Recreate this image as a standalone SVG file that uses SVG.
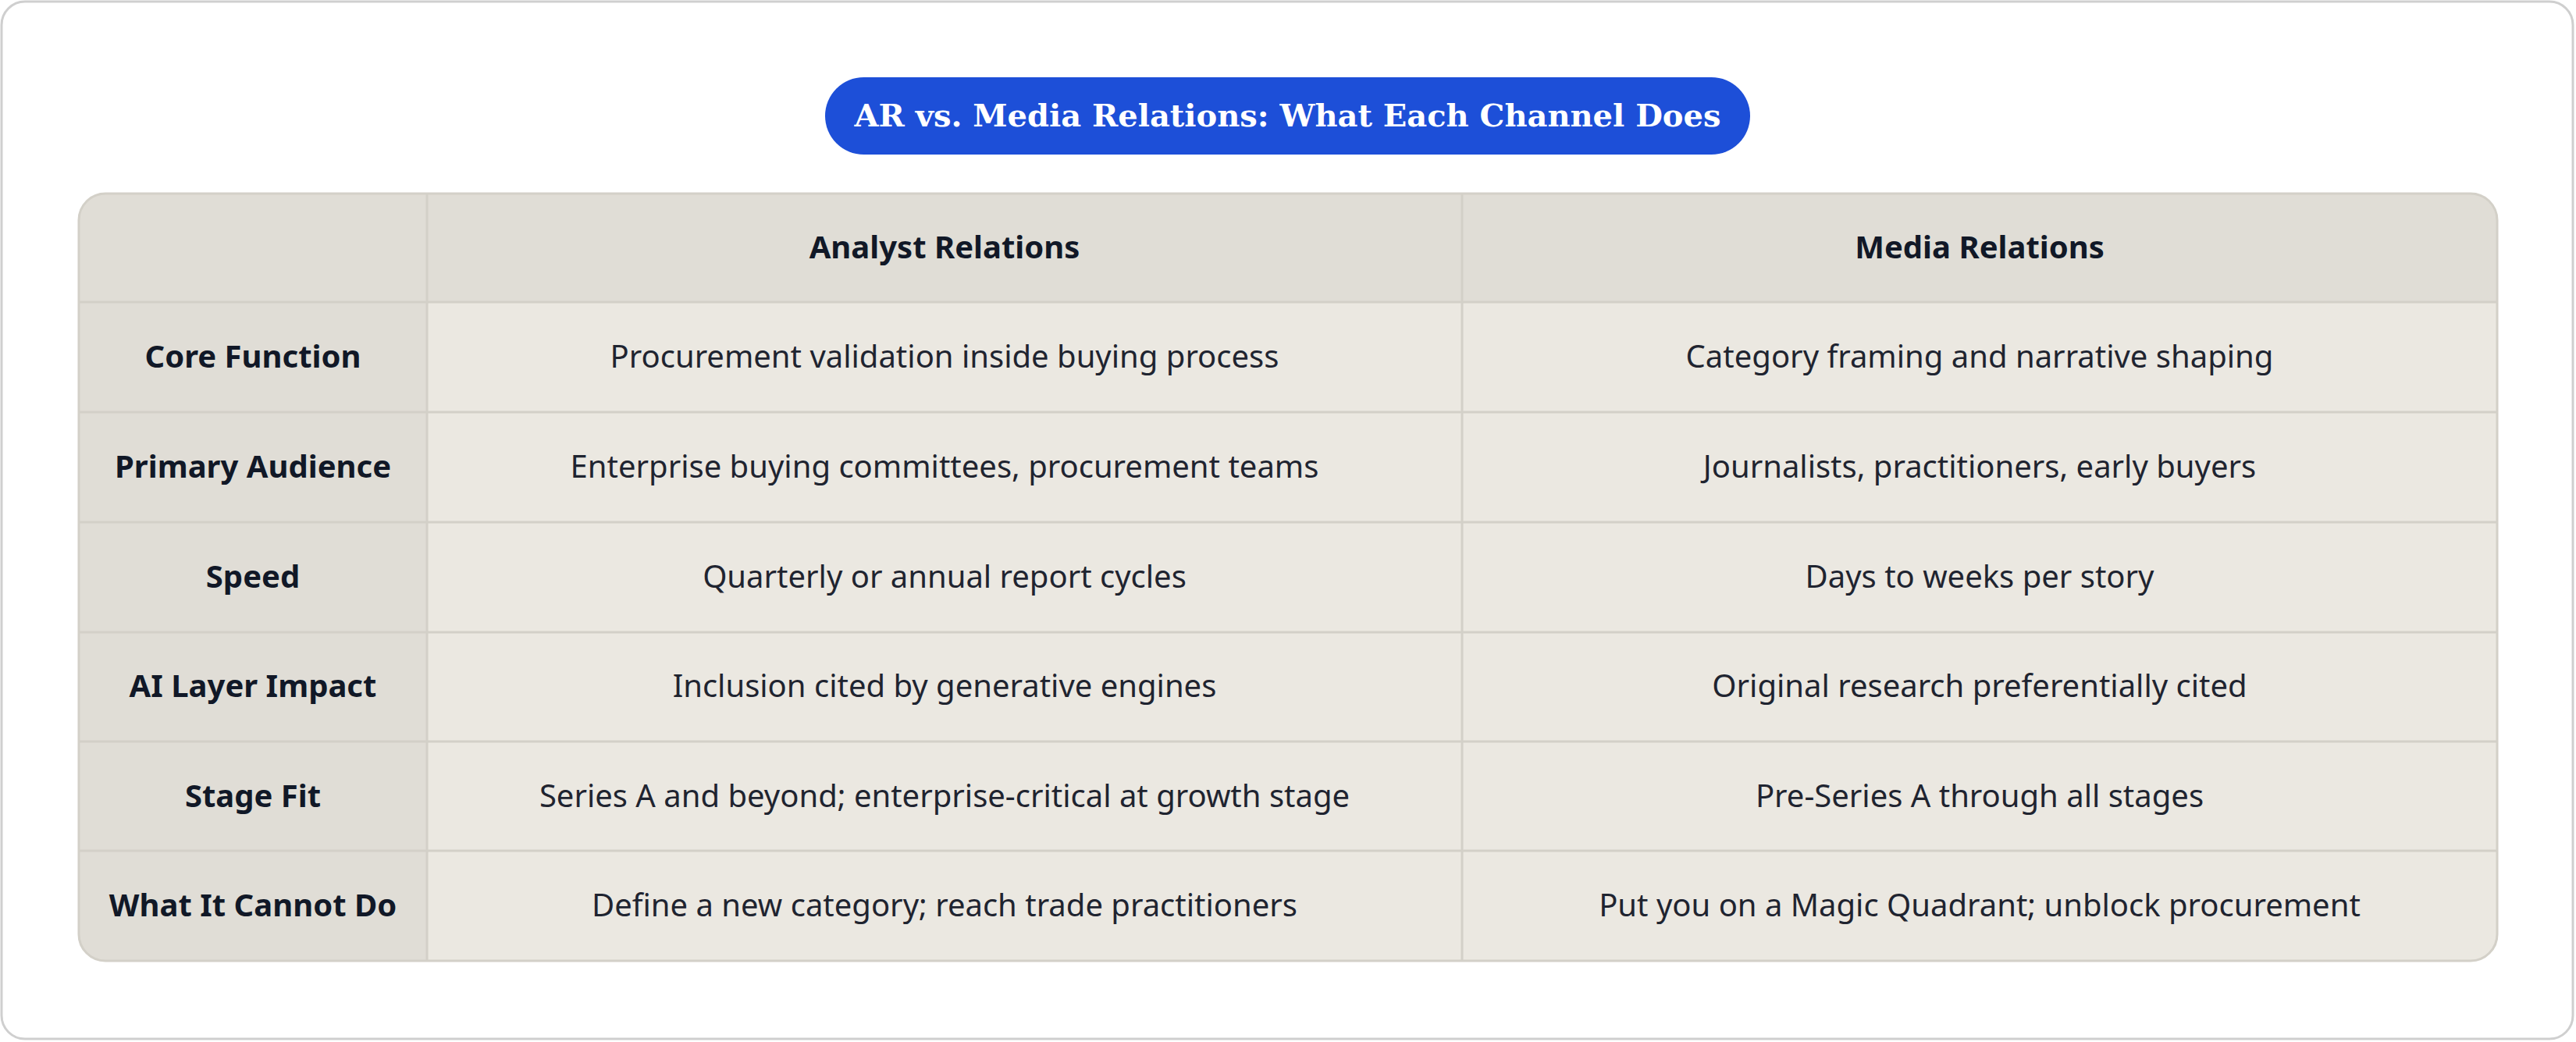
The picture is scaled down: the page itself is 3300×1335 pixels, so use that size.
<svg xmlns="http://www.w3.org/2000/svg" width="3300" height="1335" viewBox="0 0 3300 1335">
<style>
.h{font-family:"Noto Sans","Liberation Sans",sans-serif;font-weight:700;font-size:40px;fill:#111827;text-anchor:middle}
.c{font-family:"Noto Sans","Liberation Sans",sans-serif;font-size:40px;fill:#1f2430;text-anchor:middle}
.g{stroke:#d3d0c8;stroke-width:3;fill:none}
</style>
<defs><clipPath id="tc"><rect x="101" y="248" width="3098" height="983" rx="34"/></clipPath></defs>
<rect x="2" y="2" width="3294" height="1329" rx="30" fill="#fff" stroke="#cfcfcf" stroke-width="3"/>
<g id="title">
<rect x="1057" y="99" width="1185" height="99" rx="49.5" fill="#1d4fd8"/>
<text x="1649.5" y="162" font-family="'DejaVu Serif','Liberation Serif',serif" font-weight="700" font-size="40" fill="#fff" text-anchor="middle">AR vs. Media Relations: What Each Channel Does</text>
</g>
<g id="table" clip-path="url(#tc)">
<rect x="101" y="248" width="3098" height="983" fill="#ebe8e1"/>
<rect x="101" y="248" width="3098" height="139" fill="#e0ddd6"/>
<rect x="101" y="387" width="446" height="844" fill="#e0ddd6"/>
</g>
<g id="connectors">
<path class="g" d="M547 248V1231M1873 248V1231M101 387H3199M101 528H3199M101 669H3199M101 810H3199M101 950H3199M101 1090H3199"/>
<rect class="g" x="101" y="248" width="3098" height="983" rx="34"/>
</g>
<g id="header">
<text class="h" x="1210" y="331">Analyst Relations</text>
<text class="h" x="2536" y="331">Media Relations</text>
</g>
<g id="row1"><text class="h" x="324" y="471">Core Function</text><text class="c" x="1210" y="471">Procurement validation inside buying process</text><text class="c" x="2536" y="471">Category framing and narrative shaping</text></g>
<g id="row2"><text class="h" x="324" y="612">Primary Audience</text><text class="c" x="1210" y="612">Enterprise buying committees, procurement teams</text><text class="c" x="2536" y="612">Journalists, practitioners, early buyers</text></g>
<g id="row3"><text class="h" x="324" y="753">Speed</text><text class="c" x="1210" y="753">Quarterly or annual report cycles</text><text class="c" x="2536" y="753">Days to weeks per story</text></g>
<g id="row4"><text class="h" x="324" y="893">AI Layer Impact</text><text class="c" x="1210" y="893">Inclusion cited by generative engines</text><text class="c" x="2536" y="893">Original research preferentially cited</text></g>
<g id="row5"><text class="h" x="324" y="1034">Stage Fit</text><text class="c" x="1210" y="1034">Series A and beyond; enterprise-critical at growth stage</text><text class="c" x="2536" y="1034">Pre-Series A through all stages</text></g>
<g id="row6"><text class="h" x="324" y="1174">What It Cannot Do</text><text class="c" x="1210" y="1174">Define a new category; reach trade practitioners</text><text class="c" x="2536" y="1174">Put you on a Magic Quadrant; unblock procurement</text></g>
</svg>
